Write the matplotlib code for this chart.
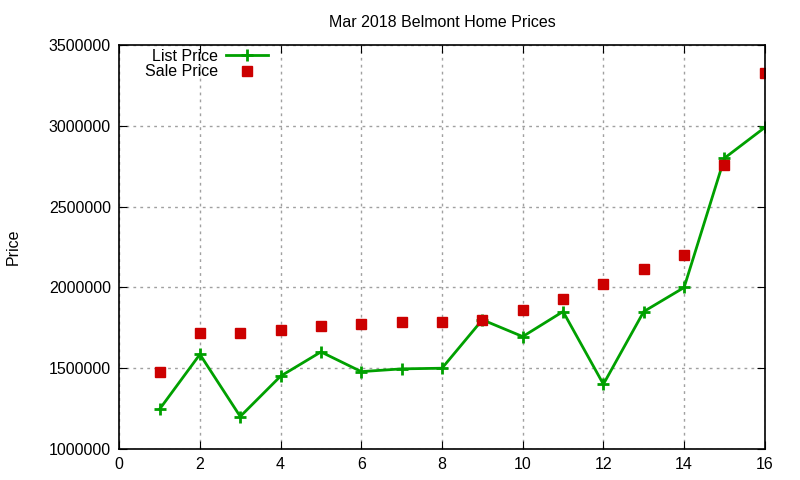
import matplotlib
matplotlib.use("Agg")
import matplotlib.pyplot as plt

# -----------------------------------------------------------
# Datos
# -----------------------------------------------------------

casas = list(range(1, 17))
precio_lista = [1245000, 1585000, 1200000, 1450000, 1600000, 1478000, 1495000, 1499000,
                1799000, 1695000, 1850000, 1400000, 1850000, 1999000, 2800000, 2990000]
precio_venta = [1473000, 1720000, 1720000, 1738000, 1762000, 1775000, 1787000, 1788000,
                1800000, 1862000, 1930000, 2022000, 2115000, 2200000, 2760000, 3330000]

x_ticks = list(range(0, 17, 2))
y_ticks = list(range(1000000, 3500001, 500000))

plt.rcParams["font.family"] = ["Liberation Sans", "DejaVu Sans"]

fig = plt.figure(figsize=(8, 4.8), dpi=100)
ax = fig.add_axes([0.149, 0.065, 0.807, 0.841])

ax.plot(casas, precio_lista, color="#00a000", lw=2, marker="+", ms=9, mew=2,
        label="List Price")
ax.plot(casas, precio_venta, ls="none", color="#cc0000", marker="s", ms=6.5,
        label="Sale Price")

ax.set_xlim(0, 16)
ax.set_ylim(1000000, 3500000)
ax.set_xticks(x_ticks)
ax.set_yticks(y_ticks)
ax.set_yticklabels([str(v) for v in y_ticks])
ax.tick_params(direction="in", top=True, right=True, labelsize=11.5, length=6,
               pad=6)
ax.grid(True, color="#a0a0a0", ls=(0, (2, 3)), lw=1)
for s in ax.spines.values():
    s.set_linewidth(1.2)

ax.set_title("Mar 2018 Belmont Home Prices", fontsize=11.5, pad=13)
ax.set_ylabel("Price", fontsize=11.5, labelpad=20)

ax.legend(loc="upper left", bbox_to_anchor=(0.025, 1.015), frameon=False,
          markerfirst=False, fontsize=11.5, handlelength=2.6,
          handletextpad=0.5, labelspacing=0.05, borderaxespad=0.2)

fig.savefig("out.png", dpi=100)
